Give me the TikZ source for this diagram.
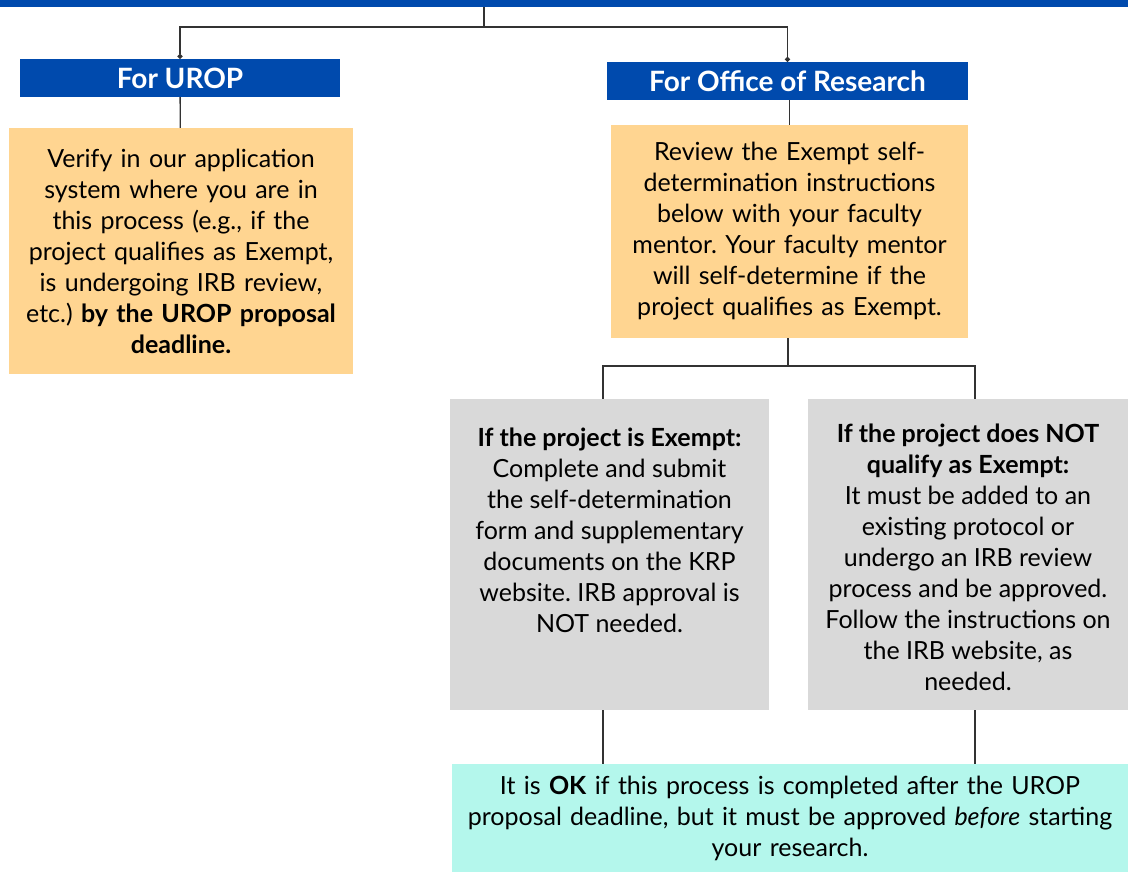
\documentclass[tikz,border=0pt]{standalone}
\usepackage{fontspec}
\setmainfont{Lato}
\usetikzlibrary{arrows.meta}
\frenchspacing

\definecolor{uropblue}{HTML}{004AAD}
\definecolor{uroporange}{HTML}{FFD591}
\definecolor{uropgrey}{HTML}{D9D9D9}
\definecolor{uropteal}{HTML}{B4F7EC}

\begin{document}
\begin{tikzpicture}[x=1pt, y=-1pt,
  every node/.style = {rectangle, draw=none, align = center,
    font = \fontsize{25pt}{31pt}\selectfont},
  headbox/.style = {fill=uropblue, text=white, minimum height=38pt,
    font = \fontsize{28pt}{31pt}\selectfont\bfseries},
  notebox/.style = {fill=uroporange, inner xsep=2pt},
  casebox/.style = {fill=uropgrey, inner sep=0pt},
  okbox/.style = {fill=uropteal, inner xsep=2pt},
  link/.style = {draw=black!80, line width=1.3pt},
  dotlink/.style = {link, -{Circle[length=5pt]}}]
  \useasboundingbox (0,0) rectangle (1128,871);

  % header bar and the two branches
  \node[fill=uropblue, minimum width=1128pt, minimum height=7pt, inner sep=0pt] (topbar) at (564,3.5) {};
  \coordinate (split) at (484,27);
  \node[headbox, minimum width=320pt] (UROP) at (180,78) {For UROP};
  \node[headbox, minimum width=361pt] (OR) at (787.5,81) {For Office of Research};

  \node[notebox, minimum width=344pt, minimum height=246pt, text width=340pt] (UROPnote) at (181,251)
  {Verify in our application\\ system where you are in\\ this process (e.g., if the\\ project qualifies as Exempt,\\
   is undergoing IRB review,\\ etc.) \textbf{by the UROP proposal}\\ \textbf{deadline.}};
  \node[notebox, minimum width=357pt, minimum height=213pt, text width=353pt] (ORnote) at (789.5,231.5)
  {Review the Exempt self-\\ determination instructions\\ below with your faculty\\ mentor. Your faculty mentor\\
   will self-determine if the\\ project qualifies as Exempt.};

  \coordinate (fork) at (788,366);
  \node[casebox] (Exempt) at (609.5,554.5)
  {\parbox[c][311pt][t]{319pt}{\centering\vspace*{29pt}\textbf{If the project is Exempt:}\\ Complete and submit\\
   the self-determination\\ form and supplementary\\ documents on the KRP\\ website. IRB approval is\\ NOT needed.}};
  \node[casebox] (NotExempt) at (968,554.5)
  {\parbox[c][311pt][t]{320pt}{\centering\vspace*{25pt}\textbf{If the project does NOT}\\ \textbf{qualify as Exempt:}\\
   It must be added to an\\ existing protocol or\\ undergo an IRB review\\ process and be approved.\\
   Follow the instructions on\\ the IRB website, as\\ needed.}};

  \node[okbox, minimum width=676pt, minimum height=108pt, text width=672pt] (OK) at (790,818)
  {It is \textbf{OK} if this process is completed after the UROP\\ proposal deadline, but it must be approved
   \textit{before} starting\\ your research.};

  \draw[link] (topbar.south -| split) -- (split);
  \draw[dotlink] (split) -| (UROP.north);
  \draw[dotlink] (split) -| (OR.north);
  \draw[link] (UROP) -- (UROPnote);
  \draw[link] (OR.south -| ORnote.north) -- (ORnote);
  \draw[link] (ORnote.south -| fork) -- (fork);
  \draw[link] (fork) -| ([xshift=-6.5pt]Exempt.north);
  \draw[link] (fork) -| ([xshift=7pt]NotExempt.north);
  \draw[link] ([xshift=-6.5pt]Exempt.south) -- ([xshift=-6.5pt]Exempt.south |- OK.north);
  \draw[link] ([xshift=7pt]NotExempt.south) -- ([xshift=7pt]NotExempt.south |- OK.north);
\end{tikzpicture}
\end{document}
